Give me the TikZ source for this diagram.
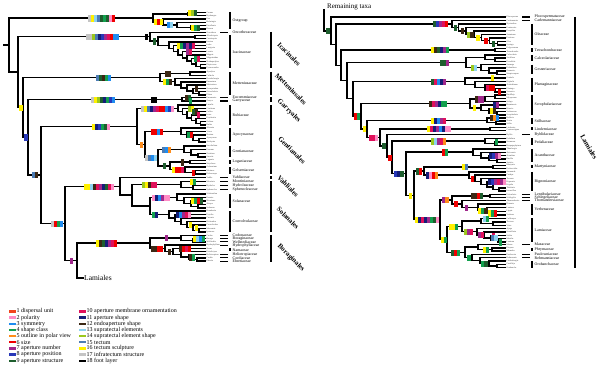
\documentclass[tikz,border=0pt]{standalone}
\usepackage{fontspec}
\setmainfont{Liberation Serif}
\definecolor{c1}{HTML}{F2441C}
\definecolor{c2}{HTML}{FF8CC6}
\definecolor{c3}{HTML}{1E8CF0}
\definecolor{c4}{HTML}{12A04E}
\definecolor{c5}{HTML}{FF8C1A}
\definecolor{c6}{HTML}{F00000}
\definecolor{c7}{HTML}{A0288C}
\definecolor{c8}{HTML}{2838B8}
\definecolor{c9}{HTML}{1E5E2E}
\definecolor{c10}{HTML}{E0105A}
\definecolor{c11}{HTML}{141E78}
\definecolor{c12}{HTML}{3C2814}
\definecolor{c13}{HTML}{8CD2F0}
\definecolor{c14}{HTML}{9BC81E}
\definecolor{c15}{HTML}{4C7CB4}
\definecolor{c16}{HTML}{FFF000}
\definecolor{c17}{HTML}{C4C4C4}
\definecolor{c18}{HTML}{000000}
% ladder subtree: name, x of tips, step, list of tip y
\newcommand\Lad[4]{%
  \foreach \yy [count=\ii] in {#4}{%
    \ifnum\ii=1\relax
      \xdef\lm{\yy}\xdef\lx{#2}%
    \else
      \pgfmathsetmacro\nx{#2-(\ii-1)*#3}%
      \draw[br] (\nx,\yy) -- (#2,\yy);
      \draw[br] (\lx,\lm) -- (\nx,\lm) -- (\nx,\yy);
      \pgfmathsetmacro\nm{(\yy+\lm)/2}%
      \xdef\lm{\nm}\xdef\lx{\nx}%
    \fi
  }%
  \coordinate (#1) at (\lx,\lm);%
}
% join two clades: new name, x, a, b
\newcommand\Jn[4]{%
  \path (#3) -- coordinate (#1m) (#4);
  \draw[br] (#3) -- (#2,0 |- #3) -- (#2,0 |- #4) -- (#4);
  \coordinate (#1) at (#2,0 |- #1m);%
}
% marks at absolute x,y
\newcommand\Mk[3]{\foreach \mc [count=\jj from 0] in {#3}{\pgfmathsetmacro\mx{#1+\jj*3-1.1}\fill[mkst,\mc] (\mx,#2-2.6) rectangle ++(2.2,5.2);}}
% marks at x on the horizontal through a named point
\newcommand\Mkat[3]{\foreach \mc [count=\jj from 0] in {#3}{\pgfmathsetmacro\mx{#2+\jj*3-1.1}\fill[mkst,\mc] (\mx,0 |- #1) ++(0,-2.6) rectangle ++(2.2,5.2);}}
% family bar and family dash
\newcommand\Famb[5]{\draw[fb] (#1,#2) -- (#1,#3); \node[famlab] at (#1+2.5,#4) {#5};}
\newcommand\Famd[3]{\draw[fb] (#1-10,#2) -- (#1-2,#2); \node[famlab] at (#1+2.5,#2) {#3};}
\begin{document}
\begin{tikzpicture}[x=1pt,y=-1pt,
  br/.style={line width=1.4pt,line cap=rect},
  fb/.style={line width=1.1pt},
  ob/.style={line width=1.4pt},
  tiplab/.style={anchor=west,inner sep=0pt,font=\fontsize{2.2}{2.4}\selectfont,text=black!75},
  famlab/.style={anchor=west,inner sep=0pt,font=\fontsize{3.9}{4.5}\selectfont},
  ordlab/.style={font=\bfseries\fontsize{7}{8}\selectfont,inner sep=0pt},
  leglab/.style={anchor=west,inner sep=0pt,font=\fontsize{6}{7}\selectfont},
  mkst/.style={draw=white!55!gray,line width=0.2pt}]
\useasboundingbox (0,0) rectangle (600,366);

%================ LEFT TREE ================
% Outgroup
\Lad{oga}{205}{17}{12.5,15.8}
\Lad{ogb}{205}{14}{25.7,29,22.4,19.1}
\Jn{og}{153}{oga}{ogb}
% Icacinales
\Lad{onc}{205}{0}{32.3}
\Lad{ica}{205}{10}{35.5,38.75}
\Lad{icb}{205}{4.5}{64.75,68,61.5,58.25,55,51.75,48.5,45.25,42}
\Jn{icac}{158}{ica}{icb}
\Jn{icl}{150}{onc}{icac}
% Metteniusales
\Lad{mea}{205}{15}{72,75.3}
\Lad{meb}{205}{6}{91.8,95,88.5,85.2,81.9,78.6}
\Jn{met}{160}{mea}{meb}
% Garryales
\Lad{euc}{205}{0}{97.5}
\Lad{gar}{205}{0}{101}
\Jn{gry}{182}{euc}{gar}
% Gentianales
\Lad{rub}{205}{4.5}{121.6,125,118.3,115,111.6,108.3,105}
\Lad{apo}{205}{6}{138.5,142,135,131.5,128}
\Lad{gen}{205}{7}{153.4,157,149.7,146}
\Lad{log}{205}{15}{160.4,163.8}
\Lad{gel}{205}{10}{170.6,174,167.2}
\Jn{lg}{170}{log}{gel}
\Jn{glg}{158}{gen}{lg}
\Jn{aglg}{145}{apo}{glg}
\Jn{gtl}{137}{rub}{aglg}
% Vahliales + Solanales
\Lad{vah}{205}{0}{177.5}
\Lad{mhs}{205}{12}{185.5,189.5,181.5}
\Lad{sol}{205}{7}{204.5,208,201,197.5,194}
\Lad{cvl}{205}{6}{228.5,232,225,221.5,218,214.5,211}
\Jn{sc}{150}{sol}{cvl}
\Jn{sln}{132}{mhs}{sc}
\Jn{vs}{120}{vah}{sln}
% Boraginales
\Lad{bot}{205}{12}{238.7,241.9,235.5}
\Lad{bob}{205}{8}{258,261.2,254.7,251.5,248.3,245.1}
\Jn{bor}{150}{bot}{bob}
% backbone
\coordinate (lam) at (83,278);
\Jn{n77}{77}{bor}{lam}
\Jn{n65}{65}{vs}{n77}
\Jn{n41}{41}{gtl}{n65}
\Jn{n28}{28}{gry}{n41}
\Jn{n23}{23}{met}{n28}
\Jn{n18}{18}{icl}{n23}
\Jn{root}{9}{og}{n18}
\coordinate (rootl) at (4,0 |- root);
\draw[br] (root) -- (rootl);
\node[anchor=west,inner sep=0pt,font=\fontsize{7.5}{8}\selectfont] (lamlab) at (84,277.5) {Lamiales};

% left marks
\Mkat{og}{89}{c17,c16,c13,c15,c9,c4,c9,c2,c6}
\Mkat{icl}{87}{c17,c17,c14,c15,c11,c8,c7,c10,c6,c3,c3}
\Mkat{icl}{146}{c18}
\Mkat{n23}{20.5}{c16}
\Mkat{met}{97}{c15,c9,c12,c4,c3}
\Mkat{gry}{92}{c17,c16,c14,c9,c11,c4,c8,c3}
\Mkat{gry}{152}{c18,c18}
\Mkat{n28}{25.5}{c8}
\Mkat{n41}{33}{c15,c12}
\Mkat{gtl}{93}{c16,c11,c8,c4,c9,c2}
\Mkat{n65}{52}{c17,c6,c4,c3}
\Mkat{vs}{85}{c16,c16,c13,c12,c10,c7,c11,c9,c10,c2}
\Mkat{n77}{71}{c7}
\Mkat{bor}{97}{c16,c12,c9,c11,c7,c10,c6}
\Mk{189}{12.5}{c16,c14,c9}
\Mkat{ogb}{155}{c16,c6,c16}
\Mk{168}{24.9}{c3,c13}
\Mk{192}{27.35}{c16,c4,c9}
\Mkat{icac}{154}{c9}
\Mk{178}{45.25}{c16,c4,c11,c7,c11,c10}
\Mk{187}{51.75}{c7,c10}
\Mk{195}{58.25}{c4,c10}
\Mkat{mea}{166}{c12,c12}
\Mkat{meb}{164}{c16,c4,c12}
\Mk{196}{88.5}{c12}
\Mk{186}{97.5}{c12,c9}
\Mk{190}{101}{c4}
\Mkat{rub}{142}{c17,c16,c15,c11,c7,c10,c6,c6,c3,c8,c2}
\Mk{189}{108.3}{c14,c16}
\Mk{193}{111.6}{c9,c12}
\Mk{198}{115}{c10}
\Mkat{apo}{152}{c6,c6,c3,c6}
\Mk{188}{135}{c4,c6}
\Mkat{aglg}{141}{c5}
\Mkat{glg}{146}{c17,c15,c3,c13}
\Mkat{gen}{163}{c15,c3,c5}
\Mkat{lg}{164}{c9}
\Mkat{log}{182}{c12}
\Mkat{gel}{173}{c16,c6,c6,c10}
\Mk{193}{172.3}{c6}
\Mkat{mhs}{143}{c14,c16,c12,c10,c10}
\Mk{191}{181.5}{c16,c4}
\Mkat{sol}{153}{c2,c11,c3,c7,c2,c2}
\Mk{192}{201}{c16,c4,c6,c9}
\Mkat{cvl}{153}{c4,c11}
\Mk{177}{214.5}{c11,c3,c7,c10,c2}
\Mk{196}{227.6}{c16}
\Mk{190}{224.6}{c16}
\Mkat{bot}{166}{c7}
\Mk{194}{238.7}{c16,c13,c3,c4}
\Mkat{bob}{152}{c12,c12,c6,c6}
\Mk{180}{248.3}{c12,c6,c10,c6}
\Mk{169}{251.3}{c12}
\Mk{190}{257.15}{c12,c4}

% left tip labels
\foreach \yy/\nm in {12.5/Cornus,15.8/Hydrangea,19.1/Ilex,22.4/Helwingia,25.7/Escallonia,29/Daucus,
 32.3/Oncotheca,35.5/Alsodeiopsis,38.75/Cassinopsis,42/Icacina,45.25/Iodes,48.5/Lavigeria,51.75/Leretia,55/Mappia,58.25/Mappianthus,61.5/Nothapodytes,64.75/Phytocrene,68/Pyrenacantha,
 72/Apodytes,75.3/Calatola,78.6/Dendrobangia,81.9/Emmotum,85.2/Metteniusa,88.5/Oecopetalum,91.8/Ottoschulzia,95/Platea,
 97.5/Eucommia,101/Garrya,105/Luculia,108.3/Cinchona,111.6/Coffea,115/Ixora,118.3/Psychotria,121.6/Galium,125/Rubia,
 128/Alstonia,131.5/Vinca,135/Nerium,138.5/Apocynum,142/Asclepias,146/Saccifolium,149.7/Exacum,153.4/Gentiana,157/Swertia,
 160.4/Logania,163.8/Strychnos,167.2/Gelsemium,170.6/Mostuea,174/Pteleocarpa,177.5/Vahlia,181.5/Montinia,185.5/Hydrolea,189.5/Sphenoclea,
 194/Schizanthus,197.5/Petunia,201/Nicotiana,204.5/Atropa,208/Solanum,211/Humbertia,214.5/Erycibe,218/Cuscuta,221.5/Dichondra,225/Convolvulus,228.5/Merremia,232/Ipomoea,
 235.5/Codon,238.7/Borago,241.9/Wellstedia,245.1/Hydrophyllum,248.3/Nama,251.5/Eriodictyon,254.7/Heliotropium,257.9/Cordia,261.1/Ehretia}
 {\node[tiplab] at (206.5,\yy) {\nm};}

% left family labels
\Famb{230}{12}{29}{20.5}{Outgroup}
\Famd{230}{32.3}{Oncothecaceae}
\Famb{230}{35.5}{68}{52}{Icacinaceae}
\Famb{230}{72}{95}{83.5}{Metteniusaceae}
\Famd{230}{97.5}{Eucommiaceae}
\Famd{230}{101}{Garryaceae}
\Famb{230}{105}{125}{115}{Rubiaceae}
\Famb{230}{128}{142}{135}{Apocynaceae}
\Famb{230}{146}{157}{151.5}{Gentianaceae}
\Famb{230}{160.4}{163.8}{162.1}{Loganiaceae}
\Famb{230}{167.2}{174}{170.6}{Gelsemiaceae}
\Famd{230}{177.5}{Vahliaceae}
\Famd{230}{181.5}{Montiniaceae}
\Famd{230}{185.5}{Hydroleaceae}
\Famd{230}{189.5}{Sphenocleaceae}
\Famb{230}{194}{208}{201}{Solanaceae}
\Famb{230}{211}{232}{221.5}{Convolvulaceae}
\Famd{230}{235.5}{Codonaceae}
\Famd{230}{238.7}{Boraginaceae}
\Famd{230}{241.9}{Wellstediaceae}
\Famd{230}{245.1}{Hydrophyllaceae}
\Famb{230}{248.3}{251.5}{249.9}{Namaceae}
\Famd{230}{254.7}{Heliotropiaceae}
\Famd{230}{257.9}{Cordiaceae}
\Famd{230}{261.1}{Ehretiaceae}

% left orders
\draw[ob] (271,32) -- (271,68);
\draw[ob] (271,72) -- (271,95);
\draw[ob] (271,97) -- (271,102);
\draw[ob] (271,105) -- (271,174.5);
\draw[ob] (271,176.5) -- (271,179);
\draw[ob] (271,181) -- (271,232.5);
\draw[ob] (271,235) -- (271,262);
\node[ordlab,rotate=-45] (oIc) at (289,54) {Icacinales};
\node[ordlab,rotate=-45] (oMe) at (291,89) {Metteniusales};
\node[ordlab,rotate=-45] (oGa) at (289,111) {Garryales};
\node[ordlab,rotate=-45] (oGe) at (292,150) {Gentianales};
\node[ordlab,rotate=-45] (oVa) at (288,186) {Vahliales};
\node[ordlab,rotate=-45] (oSo) at (288,218) {Solanales};
\node[ordlab,rotate=-45] (oBo) at (291,258) {Boraginales};

%================ RIGHT TREE ================
\Lad{plo}{505}{0}{17}
\Lad{car}{505}{0}{20.5}
\Lad{ole}{505}{7.8}{41.5,45,38,34.5,31,27.5,24}
\Jn{co}{452}{car}{ole}
\Lad{tet}{505}{10}{48.3,51.6}
\Lad{cal}{505}{10}{58.2,61.4,55}
\Lad{ges}{505}{8}{71.2,74.5,67.9,64.6}
\Jn{cg}{466}{cal}{ges}
\Lad{pla}{505}{10}{88.5,92,85,81.5,78}
\Lad{sca}{505}{10}{95,98.3,101.6}
\Lad{scb}{505}{8}{111.6,115,108.3,105}
\Jn{scr}{470}{sca}{scb}
\Lad{sti}{505}{9}{121,124,118}
\Lad{lin}{505}{15}{127.3,130.5}
\Lad{byb}{505}{0}{134.5}
\Lad{ped}{505}{10}{142,145.5,138.5}
\Lad{aca}{505}{8}{159,162.3,155.6,152.3,149}
\Lad{mar}{505}{12}{165.5,168.5}
\Lad{big}{505}{6}{188,191.2,184.8,181.6,178.4,175.2,172}
\Jn{mb}{424}{mar}{big}
\Lad{len}{505}{0}{194.5}
\Lad{sch}{505}{0}{197.5}
\Lad{tho}{505}{0}{200.5}
\Lad{ver}{505}{9}{211.4,215,207.7,204}
\Jn{ls}{490}{len}{sch}
\Jn{tv}{462}{tho}{ver}
\Jn{lstv}{452}{ls}{tv}
\Lad{laa}{505}{12}{221.9,225.3,218.5}
\Lad{lab}{505}{7}{238.8,242.2,235.4,232,228.6}
\Jn{lmc}{462}{laa}{lab}
\Lad{maz}{505}{0}{244.6}
\Lad{phr}{505}{13}{247.9,251.2}
\Jn{mp}{478}{maz}{phr}
\Lad{pau}{505}{0}{254.5}
\Lad{reh}{505}{0}{257.8}
\Lad{oro}{505}{8}{264.4,267.7,261.1}
\Jn{ro}{480}{reh}{oro}
\Jn{pro}{472}{pau}{ro}
\Jn{mg}{465}{mp}{pro}
\Jn{n447}{447}{lmc}{mg}
\Jn{n440}{440}{lstv}{n447}
\Jn{n414}{414}{mb}{n440}
\Jn{n406}{406}{aca}{n414}
\Jn{n392}{392}{ped}{n406}
\Jn{n387}{387}{byb}{n392}
\Jn{n380}{380}{lin}{n387}
\Jn{n367}{367}{sti}{n380}
\Jn{n361}{361}{scr}{n367}
\Jn{n353}{353}{pla}{n361}
\Jn{n347}{347}{cg}{n353}
\Jn{n341}{341}{tet}{n347}
\Jn{n336}{336}{co}{n341}
\Jn{n331}{331}{plo}{n336}
\coordinate (rtop) at (324,10);
\draw[br] (rtop) |- (n331);
\node[anchor=west,inner sep=0pt,font=\fontsize{7}{8}\selectfont] (remlab) at (327,6.5) {Remaining taxa};

% right marks
\Mkat{n331}{327.5}{c9}
\Mkat{co}{434}{c9,c8,c7,c10,c6}
\Mkat{ole}{455}{c9}
\Mk{462}{30.8}{c12}
\Mk{468.5}{34.3}{c14,c12}
\Mk{477.5}{37.6}{c16}
\Mk{485.5}{40.6}{c6}
\Mk{493.3}{43.25}{c9}
\Mkat{tet}{432}{c16,c12,c9,c11,c7,c4}
\Mkat{cg}{441}{c9,c9,c7}
\Mkat{ges}{472}{c14,c13}
\Mkat{pla}{432}{c9,c10,c3,c11,c7}
\Mk{492}{78}{c16}
\Mk{487}{87.6}{c10,c6,c6}
\Mk{499}{92}{c6}
\Mkat{scr}{430}{c12,c10,c7,c11,c4,c4}
\Mkat{sca}{476}{c12,c7,c7}
\Mkat{scb}{474}{c16}
\Mk{491}{110.8}{c16,c12}
\Mk{494}{105}{c11,c7}
\Mkat{n361}{355}{c6,c4}
\Mkat{n367}{364}{c16}
\Mkat{sti}{432}{c16,c11,c3,c7,c10}
\Mk{491}{118}{c12,c5,c3}
\Mkat{n380}{370}{c10,c10,c2}
\Mkat{lin}{428}{c16,c10,c11,c7,c3,c11,c2,c2}
\Mkat{n387}{383.5}{c9}
\Mkat{n392}{389.5}{c6}
\Mkat{ped}{432}{c14,c13,c7,c10,c5}
\Mk{496}{142}{c4}
\Mkat{n406}{395.5}{c8,c11,c9}
\Mkat{aca}{443}{c6,c4}
\Mk{490}{155.6}{c11,c8,c7,c2}
\Mkat{n414}{410}{c16}
\Mkat{mb}{417}{c9,c6}
\Mkat{big}{427}{c11,c2,c6,c5}
\Mk{463}{167}{c16,c15}
\Mk{472}{178.3}{c6}
\Mk{489}{181.6}{c11,c8,c7,c10,c7,c2}
\Mkat{n440}{416}{c16,c11,c10,c11,c7,c4,c9,c2}
\Mkat{lstv}{443.5}{c7,c5}
\Mkat{n447}{442}{c16,c4}
\Mkat{ls}{472}{c12,c12,c6,c9}
\Mkat{tv}{455.5}{c6}
\Mkat{ver}{466}{c7}
\Mk{479.5}{210.45}{c16,c4,c12}
\Mk{489}{213.2}{c16,c4,c6}
\Mkat{lmc}{450}{c16,c16,c4}
\Mk{484}{218.5}{c13,c4}
\Mkat{lab}{465}{c14,c7,c10}
\Mk{479}{235}{c7,c10}
\Mk{493}{235.4}{c10}
\Mk{492.5}{237.95}{c15,c13}
\Mk{500}{242.2}{c4}
\Mkat{mg}{452}{c9,c6,c4}
\Mkat{phr}{484}{c16,c4}
\Mkat{pro}{468.5}{c4}
\Mkat{oro}{482.5}{c4,c9}

% right tip labels
\foreach \yy/\nm in {17/Plocosperma,20.5/Carlemannia,24/Nyctanthes,27.5/Fontanesia,31/Forsythia,34.5/Jasminum,38/Fraxinus,41.5/Olea,45/Syringa,
 48.3/Polypremum,51.6/Tetrachondra,55/Calceolaria,58.2/Jovellana,61.4/Porodittia,64.6/Sanango,67.9/Peltanthera,71.2/Gesneria,74.5/Streptocarpus,
 78/Gratiola,81.5/Digitalis,85/Antirrhinum,88.5/Plantago,92/Veronica,95/Buddleja,98.3/Myoporum,101.6/Selago,105/Hemimeris,108.3/Diascia,111.6/Verbascum,115/Scrophularia,
 118/Halleria,121/Nuxia,124/Stilbe,127.3/Lindernia,130.5/Craterostigma,134.5/Byblis,138.5/Pedalium,142/Sesamum,145.5/Harpagophytum,
 149/Thunbergia,152.3/Avicennia,155.6/Acanthus,159/Ruellia,162.3/Justicia,165.5/Martynia,168.5/Proboscidea,
 172/Jacaranda,175.2/Catalpa,178.4/Tecoma,181.6/Bignonia,184.8/Kigelia,188/Tabebuia,191.2/Incarvillea,
 194.5/Utricularia,197.5/Schlegelia,200.5/Thomandersia,204/Duranta,207.7/Lantana,211.4/Lippia,215/Verbena,
 218.5/Callicarpa,221.9/Tectona,225.3/Vitex,228.6/Ajuga,232/Scutellaria,235.4/Salvia,238.8/Mentha,242.2/Lamium,
 244.6/Mazus,247.9/Phryma,251.2/Mimulus,254.5/Paulownia,257.8/Rehmannia,261.1/Lindenbergia,264.4/Castilleja,267.7/Orobanche}
 {\node[tiplab] at (506.5,\yy) {\nm};}

% right family labels
\Famd{532}{17}{Plocospermataceae}
\Famd{532}{20.5}{Carlemanniaceae}
\Famb{532}{24}{45}{34.5}{Oleaceae}
\Famb{532}{48.3}{51.6}{50}{Tetrachondraceae}
\Famb{532}{55}{61.4}{58.2}{Calceolariaceae}
\Famb{532}{64.6}{74.5}{69.5}{Gesneriaceae}
\Famb{532}{78}{92}{85}{Plantaginaceae}
\Famb{532}{95}{115}{105}{Scrophulariaceae}
\Famb{532}{118}{124}{121}{Stilbaceae}
\Famb{532}{127.3}{130.5}{128.9}{Linderniaceae}
\Famd{532}{134.5}{Byblidaceae}
\Famb{532}{138.5}{145.5}{142}{Pedaliaceae}
\Famb{532}{149}{162.3}{155.6}{Acanthaceae}
\Famb{532}{165.5}{168.5}{167}{Martyniaceae}
\Famb{532}{172}{191.2}{181.6}{Bignoniaceae}
\Famd{532}{194.5}{Lentibulariaceae}
\Famd{532}{197.5}{Schlegeliaceae}
\Famd{532}{200.5}{Thomandersiaceae}
\Famb{532}{204}{215}{209.5}{Verbenaceae}
\Famb{532}{218.5}{242.2}{230.3}{Lamiaceae}
\Famd{532}{244.6}{Mazaceae}
\Famb{532}{247.9}{251.2}{249.5}{Phrymaceae}
\Famd{532}{254.5}{Paulowniaceae}
\Famd{532}{257.8}{Rehmanniaceae}
\Famb{532}{261.1}{267.7}{264.4}{Orobanchaceae}
\draw[ob] (575,17) -- (575,268);
\node[ordlab,rotate=-60] (oLa) at (589,147) {Lamiales};

%================ LEGEND ================
\foreach \cc/\tt [count=\kk from 0] in {c1/dispersal unit,c2/polarity,c3/symmetry,c4/shape class,c5/outline in polar view,c6/size,c7/aperture number,c8/aperture position,c9/aperture structure}{
  \pgfmathsetmacro\ly{311.5+\kk*6.15}
  \pgfmathtruncatemacro\nn{\kk+1}
  \fill[\cc] (9,\ly-1.2) rectangle (15.5,\ly+1.2);
  \node[leglab] at (16.5,\ly) {\nn\ \tt};
}
\foreach \cc/\tt [count=\kk from 0] in {c10/aperture membrane ornamentation,c11/aperture shape,c12/endoaperture shape,c13/supratectal elements,c14/supratectal element shape,c15/tectum,c16/tectum sculpture,c17/infratectum structure,c18/foot layer}{
  \pgfmathsetmacro\ly{311.5+\kk*6.15}
  \pgfmathtruncatemacro\nn{\kk+10}
  \fill[\cc] (79,\ly-1.2) rectangle (85.5,\ly+1.2);
  \node[leglab] at (86.5,\ly) {\nn\ \tt};
}
\end{tikzpicture}
\end{document}
